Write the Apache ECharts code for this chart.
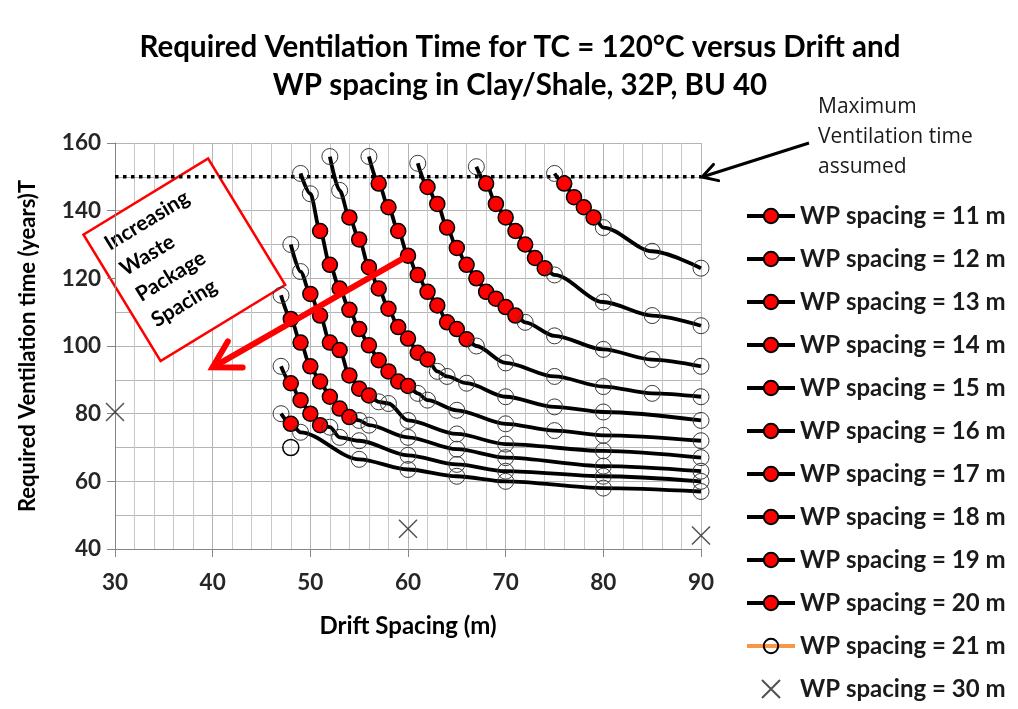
<!DOCTYPE html>
<html><head><meta charset="utf-8">
<script src="https://cdn.jsdelivr.net/npm/echarts@6/dist/echarts.min.js"></script>
<style>html,body{margin:0;padding:0;background:#fff}#c{width:1018px;height:709px}</style>
</head><body><div id="c"></div>
<script>
// ---------- data ----------
const xTicks = [30, 40, 50, 60, 70, 80, 90];
const yTicks = [40, 60, 80, 100, 120, 140, 160];
const seriesNames = ['WP spacing = 11 m','WP spacing = 12 m','WP spacing = 13 m','WP spacing = 14 m','WP spacing = 15 m',
  'WP spacing = 16 m','WP spacing = 17 m','WP spacing = 18 m','WP spacing = 19 m','WP spacing = 20 m',
  'WP spacing = 21 m','WP spacing = 30 m'];

// drift spacing (m), required ventilation time (years), drift spacings with calculated (filled) points
const d11 = [75, 76, 77, 78, 79, 80, 85, 90];
const t11 = [151, 148, 144, 141, 138, 135, 128, 123];
const r11 = [76, 77, 78, 79];

const d12 = [67, 68, 69, 70, 71, 72, 73, 74, 75, 80, 85, 90];
const t12 = [153, 148, 142, 138, 134, 130, 126, 123, 121, 113, 109, 106];
const r12 = [68, 69, 70, 71, 72, 73, 74];

const d13 = [61, 62, 63, 64, 65, 66, 67, 68, 69, 70, 71, 72, 75, 80, 85, 90];
const t13 = [154, 147, 142, 135, 129, 124, 120, 116, 114, 111.5, 109, 107, 103, 99, 96, 94];
const r13 = [62, 63, 64, 65, 66, 67, 68, 69, 70, 71];

const d14 = [56, 57, 58, 59, 60, 61, 62, 63, 64, 65, 66, 67, 70, 75, 80, 85, 90];
const t14 = [156, 148, 141, 134, 126.7, 121, 116, 112, 107, 105, 102, 100, 95, 91, 88, 86, 85];
const r14 = [57, 58, 59, 60, 61, 62, 63, 64, 65, 66];

const d15 = [52, 53, 54, 55, 56, 57, 58, 59, 60, 61, 62, 63, 64, 66, 70, 75, 80, 90];
const t15 = [156, 146, 138, 131.5, 123.3, 117, 111, 105.6, 102.2, 98, 96, 92.5, 91, 89, 85, 82, 80.5, 78];
const r15 = [54, 55, 56, 57, 58, 59, 60, 61, 62];

const d16 = [49, 50, 51, 52, 53, 54, 55, 56, 57, 58, 59, 60, 61, 62, 65, 70, 75, 80, 90];
const t16 = [151, 145, 134, 124, 117, 110.7, 105, 100.2, 95.8, 92.5, 89.5, 88.2, 86, 84, 81, 77, 75, 73.6, 72];
const r16 = [51, 52, 53, 54, 55, 56, 57, 58, 59, 60];

const d17 = [48, 49, 50, 51, 52, 53, 54, 55, 56, 57, 58, 60, 65, 70, 80, 90];
const t17 = [130, 122, 115.4, 109, 101, 98.8, 91.3, 87.4, 85.4, 83.5, 83, 78, 74, 71, 69, 67];
const r17 = [50, 51, 52, 53, 54, 55, 56];

const d18 = [47, 48, 49, 50, 51, 52, 53, 54, 55, 56, 60, 65, 70, 80, 90];
const t18 = [115, 108, 101, 94, 89.5, 85, 81.5, 79, 78, 76.6, 73, 69.5, 67, 64.5, 63];
const r18 = [48, 49, 50, 51, 52, 53, 54];

const d19 = [47, 48, 49, 50, 51, 52, 53, 55, 60, 65, 70, 80, 90];
const t19 = [94, 89, 84, 80, 76.6, 76, 73, 72, 67.7, 65, 63, 61.5, 60];
const r19 = [48, 49, 50, 51];

const d20 = [47, 48, 49, 55, 60, 65, 70, 80, 90];
const t20 = [80, 77, 74.5, 66.5, 63.5, 61.5, 60, 58, 57];
const r20 = [48];

const d21 = [48];
const t21 = [70];

const d30 = [30, 60, 90];
const t30 = [80.5, 46, 44];

const maxVentDrift = [30, 90];
const maxVentTime = [150, 150];

// ---------- chart ----------
const chart = echarts.init(document.getElementById('c'), null, {renderer: 'canvas'});
const FONT = 'Lato';
const curves = [[d11,t11,r11],[d12,t12,r12],[d13,t13,r13],[d14,t14,r14],[d15,t15,r15],
                [d16,t16,r16],[d17,t17,r17],[d18,t18,r18],[d19,t19,r19],[d20,t20,r20]];
const openStyle = {color: 'rgba(255,255,255,0)', borderColor: '#3a3a3a', borderWidth: 1};

const series = [];
series.push({
  name: 'maxvent', type: 'line', silent: true, symbol: 'none', z: 1,
  data: maxVentDrift.map((x, i) => [x, maxVentTime[i]]),
  lineStyle: {color: '#000', width: 3.5, type: [3.5, 4.5], cap: 'butt'}
});
curves.forEach((c, i) => {
  const [d, t, r] = c;
  series.push({
    name: seriesNames[i], type: 'line', smooth: 0.3, smoothMonotone: 'x',
    symbol: 'circle', symbolSize: 15, showAllSymbol: true, z: 3,
    lineStyle: {color: '#000', width: 3.8},
    itemStyle: {color: '#ff0000', borderColor: '#000', borderWidth: 1.5},
    data: d.map((x, k) => r.includes(x) ? [x, t[k]] :
      {value: [x, t[k]], symbolSize: 16, itemStyle: openStyle})
  });
});
series.push({
  name: seriesNames[10], type: 'line', symbol: 'circle', symbolSize: 16, z: 3,
  lineStyle: {color: '#f79646', width: 4},
  itemStyle: {color: 'rgba(255,255,255,0)', borderColor: '#000', borderWidth: 1.5},
  data: d21.map((x, i) => [x, t21[i]])
});
series.push({
  name: seriesNames[11], type: 'scatter', symbol: 'path://M0,0L10,10M10,0L0,10', symbolSize: 18, z: 3,
  itemStyle: {color: 'none', borderColor: '#262626', borderWidth: 1.5},
  data: d30.map((x, i) => [x, t30[i]])
});

const axisLabelStyle = {fontFamily: FONT, fontWeight: 'bold', fontSize: 22.5, color: '#262626'};

chart.setOption({
  animation: false,
  backgroundColor: '#fff',
  title: {
    text: 'Required Ventilation Time for TC = 120°C versus Drift and\nWP spacing in Clay/Shale, 32P, BU 40',
    left: 520, top: 28, textAlign: 'center', padding: 0,
    textStyle: {fontFamily: FONT, fontWeight: 'bold', fontSize: 29.5, lineHeight: 38, color: '#000'}
  },
  grid: {left: 115, right: 317, top: 143, bottom: 160, containLabel: false},
  xAxis: {
    type: 'value', min: xTicks[0], max: xTicks[xTicks.length - 1], interval: 10,
    name: 'Drift Spacing (m)', nameLocation: 'middle', nameGap: 65,
    nameTextStyle: {fontFamily: FONT, fontWeight: 'bold', fontSize: 24, color: '#000'},
    axisLine: {show: true, onZero: false, lineStyle: {color: '#868686', width: 1}},
    axisTick: {show: true, length: 8, lineStyle: {color: '#868686'}},
    axisLabel: Object.assign({margin: 22}, axisLabelStyle),
    splitLine: {show: true, lineStyle: {color: '#b4b4b4', width: 1}},
    minorTick: {show: false, splitNumber: 5},
    minorSplitLine: {show: true, lineStyle: {color: '#c8c8c8', width: 1}}
  },
  yAxis: {
    type: 'value', min: yTicks[0], max: yTicks[yTicks.length - 1], interval: 20,
    name: 'Required Ventilation time (years)T', nameLocation: 'middle', nameGap: 76,
    nameTextStyle: {fontFamily: FONT, fontWeight: 'bold', fontSize: 22, color: '#000'},
    axisLine: {show: true, onZero: false, lineStyle: {color: '#868686', width: 1}},
    axisTick: {show: true, length: 8, lineStyle: {color: '#868686'}},
    axisLabel: Object.assign({margin: 14}, axisLabelStyle),
    splitLine: {show: true, lineStyle: {color: '#b4b4b4', width: 1}},
    minorTick: {show: false, splitNumber: 2},
    minorSplitLine: {show: true, lineStyle: {color: '#b4b4b4', width: 1}}
  },
  legend: {
    data: seriesNames.map(n => n === seriesNames[10]
      ? {name: n, lineStyle: {color: '#f79646', width: 4}} : n),
    orient: 'vertical', left: 745, top: 204, bottom: 0, padding: 0,
    itemWidth: 48, itemHeight: 18, itemGap: 19, selectedMode: false,
    lineStyle: {width: 3.8},
    textStyle: {fontFamily: FONT, fontWeight: 'bold', fontSize: 24, lineHeight: 24, color: '#1a1a1a'}
  },
  series: series
});

// ---------- annotations ----------
function arrow(p0, p1, color, width, wing) {
  const dx = p0[0] - p1[0], dy = p0[1] - p1[1];
  const len = Math.hypot(dx, dy), ux = dx / len, uy = dy / len;
  const c = Math.cos(Math.PI / 6), s = Math.sin(Math.PI / 6);
  const w1 = [p1[0] + wing * (c * ux - s * uy), p1[1] + wing * (s * ux + c * uy)];
  const w2 = [p1[0] + wing * (c * ux + s * uy), p1[1] + wing * (-s * ux + c * uy)];
  return [
    {type: 'line', silent: true, z: 10, shape: {x1: p0[0], y1: p0[1], x2: p1[0], y2: p1[1]},
     style: {stroke: color, lineWidth: width, lineCap: 'butt'}},
    {type: 'polyline', silent: true, z: 10, shape: {points: [w1, p1, w2]},
     style: {stroke: color, lineWidth: width, fill: null, lineJoin: 'miter', lineCap: 'round'}}
  ];
}
const redStart = chart.convertToPixel({gridIndex: 0}, [60, 126.7]);
const redEnd = chart.convertToPixel({gridIndex: 0}, [40, 93.7]);
const boxC = chart.convertToPixel({gridIndex: 0}, [37.1, 125.5]);
const elements = [];
elements.push({
  type: 'group', x: boxC[0], y: boxC[1], rotation: 31.4 * Math.PI / 180, z: 9,
  children: [
    {type: 'rect', shape: {x: -73, y: -74, width: 146, height: 148},
     style: {fill: '#fff', stroke: '#ff0000', lineWidth: 2.5}},
    {type: 'text', x: -59, y: -68,
     style: {text: 'Increasing\nWaste\nPackage\nSpacing', font: 'bold 21px Lato', fill: '#000',
             align: 'left', verticalAlign: 'top', lineHeight: 30}}
  ]
});
arrow(redStart, redEnd, '#ff0000', 6, 30).forEach(e => elements.push(e));
arrow([809, 143], [702, 177], '#000', 3, 17).forEach(e => elements.push(e));
elements.push({
  type: 'text', x: 818, y: 92, silent: true,
  style: {text: 'Maximum\nVentilation time\nassumed', font: '21px "Open Sans"', fill: '#1a1a1a',
          align: 'left', verticalAlign: 'top', lineHeight: 30}
});
chart.setOption({graphic: {elements: elements}});
</script>
</body></html>
